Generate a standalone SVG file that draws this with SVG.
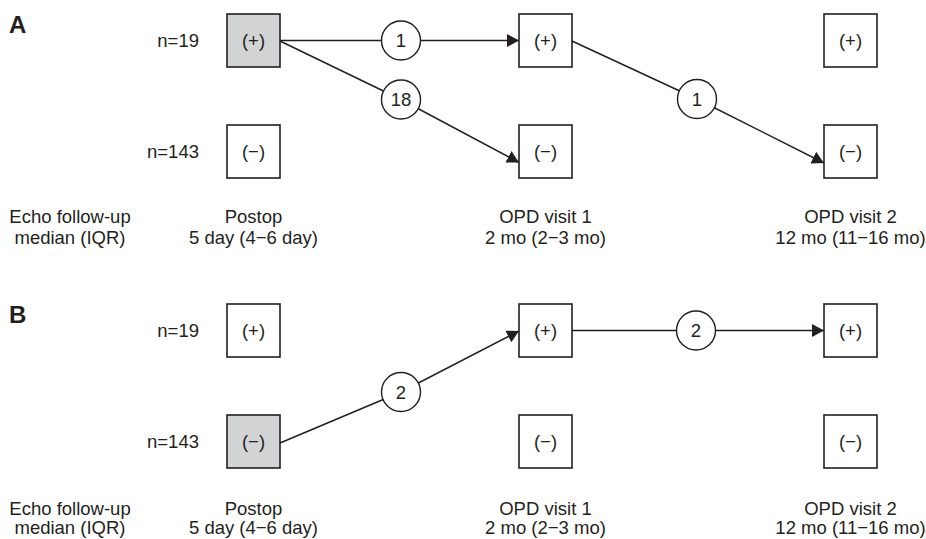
<svg xmlns="http://www.w3.org/2000/svg" width="926" height="539" viewBox="0 0 926 539">
<style>
text{font-family:"Liberation Sans",Arial,sans-serif;fill:#231f20;font-size:18.5px}
.panel{font-weight:bold;font-size:24px}
.box{fill:#ffffff;stroke:#231f20;stroke-width:1.6}
.box.g{fill:#d1d3d4}
.c{text-anchor:middle}
.n{text-anchor:end}
.ln{stroke:#231f20;stroke-width:1.5;fill:none}
.cir{fill:#ffffff;stroke:#231f20;stroke-width:1.4}
</style>
<defs>
<marker id="ah" markerUnits="userSpaceOnUse" markerWidth="12" markerHeight="13" refX="12" refY="6.5" orient="auto" viewBox="0 0 12 13">
<path d="M0,0 L12,6.5 L0,13 z" fill="#231f20"/>
</marker>
</defs>

<!-- Panel A -->
<g id="panelA-label"><text class="panel" x="9" y="33">A</text></g>
<g id="A-n19"><text class="n" x="199" y="47">n=19</text></g>
<g id="A-n143"><text class="n" x="199" y="158">n=143</text></g>

<g id="A-connectors">
<path class="ln" d="M280,40.5 L519,40.5" marker-end="url(#ah)"/>
<path class="ln" d="M280,41 L401,99.5 L519,162.5" marker-end="url(#ah)"/>
<path class="ln" d="M572,41 L697,99 L824,163" marker-end="url(#ah)"/>
<circle class="cir" cx="401" cy="40.5" r="19.5"/>
<text class="c" x="401" y="47">1</text>
<circle class="cir" cx="401" cy="99.5" r="19.5"/>
<text class="c" x="401" y="106">18</text>
<circle class="cir" cx="697" cy="99" r="19.5"/>
<text class="c" x="697" y="105.5">1</text>
</g>

<g id="A-postop-pos"><rect class="box g" x="227" y="14" width="53" height="53"/><text class="c" x="253.5" y="47">(+)</text></g>
<g id="A-postop-neg"><rect class="box" x="227" y="125" width="53" height="53"/><text class="c" x="253.5" y="158">(−)</text></g>
<g id="A-opd1-pos"><rect class="box" x="519" y="14" width="53" height="53"/><text class="c" x="545.5" y="47">(+)</text></g>
<g id="A-opd1-neg"><rect class="box" x="519" y="125" width="53" height="53"/><text class="c" x="545.5" y="158">(−)</text></g>
<g id="A-opd2-pos"><rect class="box" x="824" y="14" width="53" height="53"/><text class="c" x="850.5" y="47">(+)</text></g>
<g id="A-opd2-neg"><rect class="box" x="824" y="125" width="53" height="53"/><text class="c" x="850.5" y="158">(−)</text></g>

<g id="A-axis">
<text class="c" x="70" y="223">Echo follow-up</text>
<text class="c" x="70" y="244">median (IQR)</text>
<text class="c" x="253.5" y="223">Postop</text>
<text class="c" x="253.5" y="244">5 day (4−6 day)</text>
<text class="c" x="545.5" y="223">OPD visit 1</text>
<text class="c" x="545.5" y="244">2 mo (2−3 mo)</text>
<text class="c" x="850.5" y="223">OPD visit 2</text>
<text class="c" x="850.5" y="244">12 mo (11−16 mo)</text>
</g>

<!-- Panel B -->
<g id="panelB-label"><text class="panel" x="9" y="323">B</text></g>
<g id="B-n19"><text class="n" x="199" y="337">n=19</text></g>
<g id="B-n143"><text class="n" x="199" y="448">n=143</text></g>

<g id="B-connectors">
<path class="ln" d="M280,443 L401,392 L519,331" marker-end="url(#ah)"/>
<path class="ln" d="M572,330.5 L824,330.5" marker-end="url(#ah)"/>
<circle class="cir" cx="401" cy="392" r="19.5"/>
<text class="c" x="401" y="398.5">2</text>
<circle class="cir" cx="696" cy="330.5" r="19.5"/>
<text class="c" x="696" y="337">2</text>
</g>

<g id="B-postop-pos"><rect class="box" x="227" y="304" width="53" height="53"/><text class="c" x="253.5" y="337">(+)</text></g>
<g id="B-postop-neg"><rect class="box g" x="227" y="415" width="53" height="53"/><text class="c" x="253.5" y="448">(−)</text></g>
<g id="B-opd1-pos"><rect class="box" x="519" y="304" width="53" height="53"/><text class="c" x="545.5" y="337">(+)</text></g>
<g id="B-opd1-neg"><rect class="box" x="519" y="415" width="53" height="53"/><text class="c" x="545.5" y="448">(−)</text></g>
<g id="B-opd2-pos"><rect class="box" x="824" y="304" width="53" height="53"/><text class="c" x="850.5" y="337">(+)</text></g>
<g id="B-opd2-neg"><rect class="box" x="824" y="415" width="53" height="53"/><text class="c" x="850.5" y="448">(−)</text></g>

<g id="B-axis">
<text class="c" x="70" y="515">Echo follow-up</text>
<text class="c" x="70" y="534">median (IQR)</text>
<text class="c" x="253.5" y="515">Postop</text>
<text class="c" x="253.5" y="534">5 day (4−6 day)</text>
<text class="c" x="545.5" y="515">OPD visit 1</text>
<text class="c" x="545.5" y="534">2 mo (2−3 mo)</text>
<text class="c" x="850.5" y="515">OPD visit 2</text>
<text class="c" x="850.5" y="534">12 mo (11−16 mo)</text>
</g>
</svg>
